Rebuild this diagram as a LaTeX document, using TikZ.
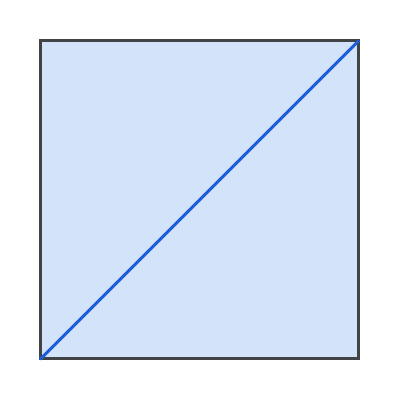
\documentclass[tikz,border=0pt]{standalone}
\definecolor{sqfill}{HTML}{D3E4FA}
\definecolor{sqedge}{HTML}{414344}
\definecolor{diag}{HTML}{1B5FDB}
\begin{document}
\begin{tikzpicture}[x=1pt,y=1pt,
  sqbox/.style={fill=sqfill,draw=sqedge,line width=3pt},
  diagline/.style={draw=diag,line width=3pt,line cap=round}]
\useasboundingbox (0,0) rectangle (400,400);
\coordinate (bl) at (40.5,41);
\coordinate (tr) at (358.5,359);
\draw[sqbox] (bl) rectangle (tr);
\draw[diagline] (bl) -- (tr);
\end{tikzpicture}
\end{document}
